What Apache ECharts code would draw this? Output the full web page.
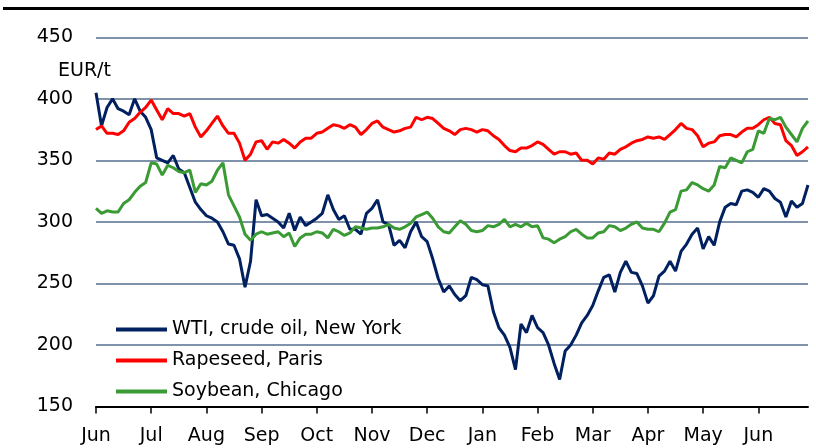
<!DOCTYPE html>
<html>
<head>
<meta charset="utf-8">
<script src="https://cdn.jsdelivr.net/npm/echarts@6/dist/echarts.min.js"></script>
<style>
html,body{margin:0;padding:0;background:#fff;}
#chart{width:816px;height:448px;}
</style>
</head>
<body>
<div id="chart"></div>
<script>
// Month tick labels (one tick every 10 samples)
const monthLabels = ['Jun','Jul','Aug','Sep','Oct','Nov','Dec','Jan','Feb','Mar','Apr','May','Jun'];
const samplesPerMonth = 10;
const seriesNames = ['WTI, crude oil, New York', 'Rapeseed, Paris', 'Soybean, Chicago'];
const yTicks = [150, 200, 250, 300, 350, 400, 450];

const wti = [
405,378,393,400,392,390,387,400,390,385,
375,352,350,348,354,343,340,328,316,310,
305,303,300,292,282,281,270,247,268,318,
305,306,303,300,295,307,293,304,297,300,
303,307,322,310,302,305,294,294,290,307,
311,318,300,298,281,285,279,292,300,288,
284,270,254,243,248,241,236,240,255,253,
249,248,227,214,208,198,180,217,210,224,
214,210,200,185,172,195,200,208,218,224,
232,244,255,257,243,259,268,259,258,248,
234,240,256,260,268,260,276,282,290,295,
278,288,281,300,312,315,314,325,326,324,
320,327,325,319,316,304,317,312,315,330
];
const rapeseed = [
375,378,372,372,371,374,381,384,389,393,
399,391,383,392,388,388,386,388,377,369,
374,380,386,378,372,372,364,350,355,365,
366,359,365,364,367,364,360,365,368,368,
372,373,376,379,378,376,379,377,371,375,
380,382,377,375,373,374,376,377,385,383,
385,384,380,376,374,371,375,376,375,373,
375,374,370,367,362,358,357,360,360,362,
365,363,359,355,357,357,355,356,350,350,
347,352,351,356,355,359,361,364,366,367,
369,368,369,367,371,375,380,376,375,370,
361,364,365,370,371,371,369,373,376,376,
379,383,385,380,379,366,362,354,357,361
];
const soybean = [
311,307,309,308,308,315,318,324,329,332,
348,347,338,346,344,341,340,342,324,331,
330,333,342,348,322,313,304,290,285,290,
292,290,291,292,288,291,280,287,290,290,
292,291,287,294,292,289,291,296,295,294,
295,295,296,298,295,294,296,299,304,306,
308,303,296,292,291,296,301,298,293,292,
293,297,296,298,302,296,298,296,299,296,
297,287,286,283,286,288,292,294,290,287,
287,291,292,297,296,293,295,298,300,295,
294,294,292,299,308,310,325,326,332,330,
327,325,330,345,344,352,350,348,357,359,
374,372,384,383,385,377,371,365,376,382
];

const n = wti.length;
const categories = [];
for (let i = 0; i < n; i++) {
  categories.push(i % samplesPerMonth === 0 ? monthLabels[i / samplesPerMonth] : '');
}
const isMonthStart = (idx) => idx % samplesPerMonth === 0;

const FONT = 'DejaVu Sans';
const chart = echarts.init(document.getElementById('chart'), null, {renderer: 'canvas'});
chart.setOption({
  animation: false,
  backgroundColor: '#ffffff',
  textStyle: {fontFamily: FONT},
  grid: {left: 96, right: 8, top: 37.3, bottom: 41.5, containLabel: false},
  graphic: [
    {type: 'line', shape: {x1: 3, y1: 8.5, x2: 809, y2: 8.5}, style: {stroke: '#000', lineWidth: 3}},
    {type: 'text', left: 58, top: 62, style: {text: 'EUR/t', font: '19px "DejaVu Sans"', fill: '#000'}}
  ],
  legend: {
    orient: 'vertical',
    left: 111,
    top: 315,
    padding: 5,
    itemWidth: 51,
    itemHeight: 4,
    itemGap: 12,
    icon: 'rect',
    textStyle: {fontFamily: FONT, fontSize: 19, color: '#000'},
    data: seriesNames
  },
  xAxis: {
    type: 'category',
    data: categories,
    boundaryGap: false,
    axisLine: {show: true, lineStyle: {color: '#000', width: 2}},
    axisTick: {show: true, interval: (idx) => isMonthStart(idx), length: 7, lineStyle: {color: '#000', width: 1.5}},
    axisLabel: {interval: (idx) => isMonthStart(idx), fontFamily: FONT, fontSize: 19, color: '#000', margin: 20},
    splitLine: {show: false}
  },
  yAxis: {
    type: 'value',
    min: yTicks[0],
    max: yTicks[yTicks.length - 1],
    interval: 50,
    axisLine: {show: false},
    axisTick: {show: false},
    axisLabel: {fontFamily: FONT, fontSize: 19, color: '#000', margin: 23},
    splitLine: {show: true, lineStyle: {color: '#7f92aa', width: 2}}
  },
  series: [
    {name: seriesNames[0], type: 'line', data: wti, showSymbol: false, symbol: 'none', color: '#002060', lineStyle: {width: 3, color: '#002060'}},
    {name: seriesNames[1], type: 'line', data: rapeseed, showSymbol: false, symbol: 'none', color: '#ff0000', lineStyle: {width: 3, color: '#ff0000'}},
    {name: seriesNames[2], type: 'line', data: soybean, showSymbol: false, symbol: 'none', color: '#3a9a34', lineStyle: {width: 3, color: '#3a9a34'}}
  ]
});
</script>
</body>
</html>
